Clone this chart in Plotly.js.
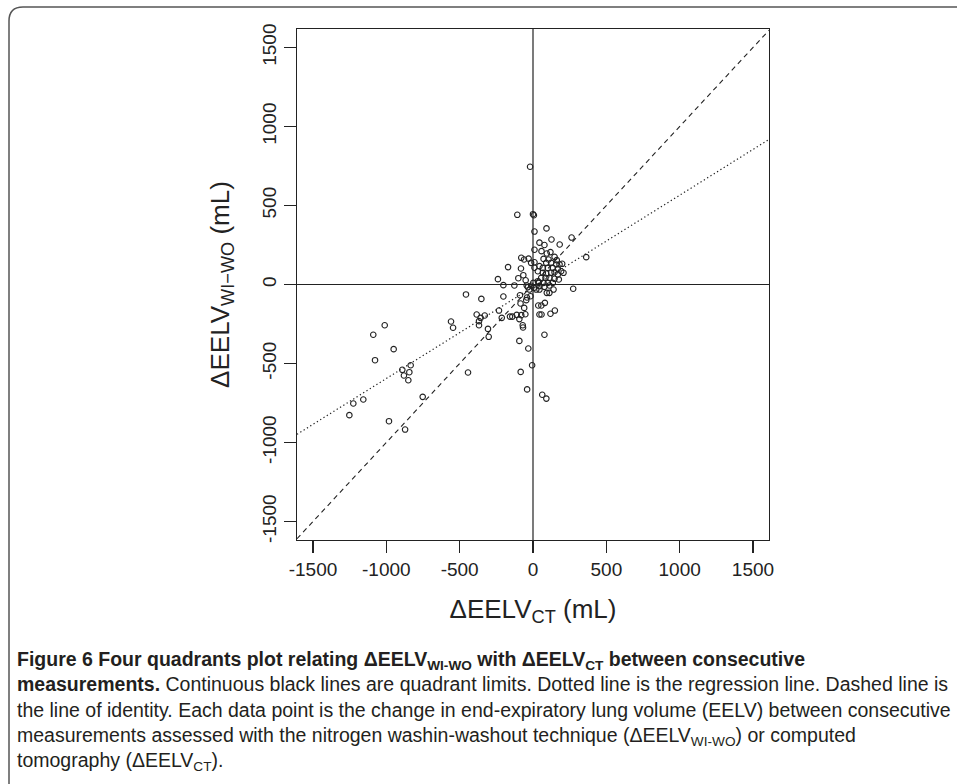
<!DOCTYPE html>
<html>
<head>
<meta charset="utf-8">
<script src="https://cdn.plot.ly/plotly-3.0.1.min.js"></script>
<style>
  html, body { margin: 0; padding: 0; background: #ffffff; }
  #chart { width: 957px; height: 784px; }
</style>
</head>
<body>
<div id="chart"></div>
<script>
// ΔEELV_CT (x, mL)
const ctValues = [
  -20, -107, 0, 6, -80, -61, -30, -170, -82, -239, -100, -66, -202, -127, -50, -43, -35, -24, -12,
  -457, -352, -202, -89, -41, -17, -46, -85, -60, -232, -384, -329, -357, -368, -368, -213, -157,
  -141, -111, -80, -52, -93, -70, -68, -307, -302, -559, -545, -1011, -1089, -950, -1077, -93, -32,
  -834, -891, -843, -880, -850, -443, -84, -40, -752, -1157, -1225, -1252, -982, -872, 63, 91, -6,
  78, 36, 57, 44, 58, 81, 119, 149, 274, 363, 2, 6,
  58, 94, 119, 147, 162, 106, 72, 90, 124, 158, 181, 199, 44, 67, 101, 135, 169, 192, 208, 33, 67,
  90, 124, 147, 169, 56, 85, 112, 147, 176, 33, 72, 101, 135, 44, 78, 112, 22, 44, 94, 112, 140, 40,
  -13, 10, 10,
  10, 92, 44, 126, 182, 263, 10, 78
];
// ΔEELV_WI-WO (y, mL)
const wiwoValues = [
  745, 441, 445, 438, 169, 158, 164, 110, 101, 34, 40, 59, -4, -6, 27, -6, -17, -32, -8,
  -63, -91, -76, -68, -82, -74, -99, -120, -148, -165, -190, -196, -211, -232, -258, -211, -203,
  -203, -192, -194, -188, -219, -258, -272, -281, -331, -234, -274, -258, -318, -409, -479, -357, -405,
  -511, -540, -555, -576, -606, -557, -553, -664, -711, -728, -753, -827, -865, -918, -698, -722, -511,
  -318, -133, -133, -190, -190, -116, -185, -165, -27, 173, 10, -21,
  211, 196, 205, 175, 154, 158, 162, 137, 137, 127, 127, 131, 116, 105, 105, 105, 99, 84, 74, 84, 74,
  70, 74, 78, 63, 42, 42, 42, 36, 32, 21, 10, 10, 10, -10, -15, -6, -32, -32, -53, -53, -32, 10,
  137, 141, 106,
  335, 355, 265, 285, 253, 297, 220, 250
];
const tickValues = [-1500, -1000, -500, 0, 500, 1000, 1500];
const tickLabels = ["-1500", "-1000", "-500", "0", "500", "1000", "1500"];
const axisLimits = [-1609, 1609];
const yLimits = [-1617, 1617];
const regressionSlope = 0.58;
const regressionIntercept = -15;

const ink = '#222222';
const plotFont = 'Liberation Sans, Arial, Helvetica, sans-serif';

const lineX = [axisLimits[0], axisLimits[1]];
const traces = [
  {
    x: lineX, y: lineX, mode: 'lines', type: 'scatter', hoverinfo: 'skip',
    line: { color: ink, width: 1.1, dash: '5px,4px' }, showlegend: false
  },
  {
    x: lineX, y: lineX.map(v => regressionSlope * v + regressionIntercept),
    mode: 'lines', type: 'scatter', hoverinfo: 'skip',
    line: { color: ink, width: 1.2, dash: '1.3px,2.6px' }, showlegend: false
  },
  {
    x: ctValues, y: wiwoValues, mode: 'markers', type: 'scatter',
    marker: { symbol: 'circle-open', size: 5.5, color: ink, line: { width: 1.1, color: ink } },
    showlegend: false
  }
];

// frame (rounded box) in paper coords
const W = 472, H = 511; // plot area px
const px = v => (v - 297) / W;
const py = v => (540 - v) / H;
const fx0 = px(9), fx1 = px(990), fy1 = py(7), fy0 = py(820);
const rx = 14 / W, ry = 14 / H;
const framePath = `M ${fx0} ${fy0} L ${fx0} ${fy1 - ry} Q ${fx0} ${fy1} ${fx0 + rx} ${fy1} L ${fx1} ${fy1}`;

const captionText =
  '<b>Figure 6 Four quadrants plot relating ΔEELV<sub>WI-WO</sub> with ΔEELV<sub>CT</sub> between consecutive</b><br>' +
  '<b>measurements.</b> Continuous black lines are quadrant limits. Dotted line is the regression line. Dashed line is<br>' +
  'the line of identity. Each data point is the change in end-expiratory lung volume (EELV) between consecutive<br>' +
  'measurements assessed with the nitrogen washin-washout technique (ΔEELV<sub>WI-WO</sub>) or computed<br>' +
  'tomography (ΔEELV<sub>CT</sub>).';

const layout = {
  width: 957, height: 784, autosize: false,
  margin: { l: 297, r: 188, t: 29, b: 244, pad: 0 },
  paper_bgcolor: '#ffffff', plot_bgcolor: '#ffffff',
  font: { family: plotFont, color: ink },
  xaxis: {
    range: axisLimits, tickmode: 'array', tickvals: tickValues, ticktext: tickLabels,
    ticks: 'outside', ticklen: 12, tickwidth: 1.2, tickcolor: ink,
    showline: true, linecolor: ink, linewidth: 1.2, mirror: true,
    showgrid: false, zeroline: false,
    tickfont: { size: 19, family: plotFont, color: ink },
    title: { text: 'ΔEELV<sub>CT</sub> (mL)', font: { size: 26, family: plotFont, color: ink }, standoff: 20 }
  },
  yaxis: {
    range: yLimits, tickmode: 'array', tickvals: tickValues, ticktext: tickLabels,
    ticks: 'outside', ticklen: 12, tickwidth: 1.2, tickcolor: ink, tickangle: -90,
    showline: true, linecolor: ink, linewidth: 1.2, mirror: true,
    showgrid: false, zeroline: false,
    tickfont: { size: 19, family: plotFont, color: ink },
    title: { text: 'ΔEELV<sub>WI−WO</sub> (mL)', font: { size: 26, family: plotFont, color: ink }, standoff: 22 }
  },
  shapes: [
    { type: 'line', xref: 'x', yref: 'paper', x0: 0, x1: 0, y0: 0, y1: 1, line: { color: ink, width: 1.2 }, layer: 'below' },
    { type: 'line', xref: 'paper', yref: 'y', x0: 0, x1: 1, y0: 0, y1: 0, line: { color: ink, width: 1.2 }, layer: 'below' },
    { type: 'path', xref: 'paper', yref: 'paper', path: framePath, line: { color: '#555555', width: 1.5 } }
  ],
  annotations: [
    {
      xref: 'paper', yref: 'paper', x: px(15), y: py(646), xanchor: 'left', yanchor: 'top',
      align: 'left', showarrow: false, text: captionText,
      font: { family: 'Liberation Sans, Arial, sans-serif', size: 19.5, color: '#231f20' }
    }
  ]
};

Plotly.newPlot('chart', traces, layout, { displayModeBar: false, staticPlot: true });
</script>
</body>
</html>
